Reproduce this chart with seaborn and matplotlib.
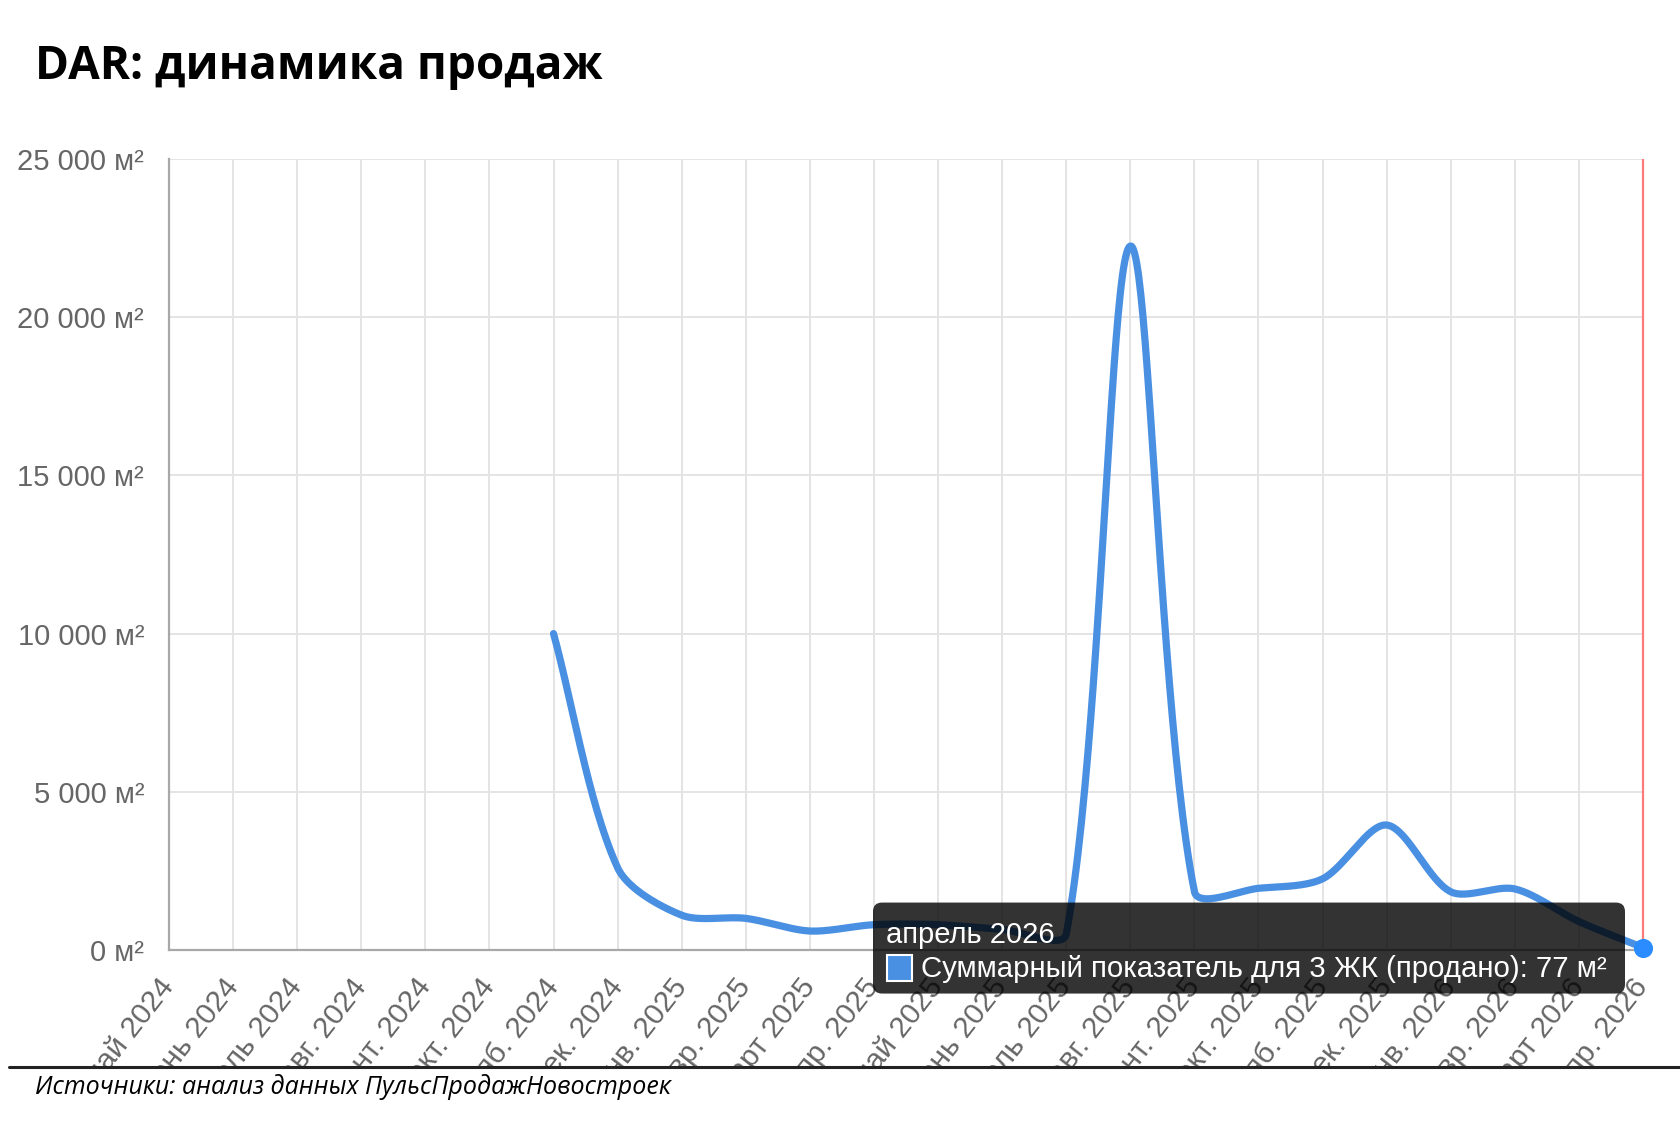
import numpy as np
import pandas as pd
import matplotlib
matplotlib.use("Agg")
import matplotlib.pyplot as plt
import seaborn as sns
from matplotlib.patches import FancyBboxPatch, Rectangle
from matplotlib.lines import Line2D
from matplotlib.ticker import FuncFormatter, MultipleLocator
from matplotlib.transforms import IdentityTransform

# --- data ---
months = ["май 2024", "июнь 2024", "июль 2024", "авг. 2024", "сент. 2024",
          "окт. 2024", "нояб. 2024", "дек. 2024", "янв. 2025", "февр. 2025",
          "март 2025", "апр. 2025", "май 2025", "июнь 2025", "июль 2025",
          "авг. 2025", "сент. 2025", "окт. 2025", "нояб. 2025", "дек. 2025",
          "янв. 2026", "февр. 2026", "март 2026", "апр. 2026"]
sold_m2 = [np.nan, np.nan, np.nan, np.nan, np.nan, np.nan,
           10000, 2600, 1100, 1000, 600, 800, 800, 650, 500,
           22250, 1850, 1950, 2250, 3950, 1840, 1930, 900, 77]

title = "DAR: динамика продаж"
source = "Источники: анализ данных ПульсПродажНовостроек"
tip_month = "апрель 2026"
series_name = "Суммарный показатель для 3 ЖК (продано)"

LINE = "#4a90e2"
GRID = "#e4e4e4"
TXT = "#666666"
Y_MAX = 25000


def spline_path(px, py, tension=0.3, top=None, bottom=None, steps=50):
    # chart.js style bezier spline, computed in pixel space
    n = len(px)
    cp_prev = np.zeros((n, 2))
    cp_next = np.zeros((n, 2))
    for i in range(n):
        cur = np.array([px[i], py[i]])
        prv = np.array([px[i - 1], py[i - 1]]) if i > 0 else cur
        nxt = np.array([px[i + 1], py[i + 1]]) if i < n - 1 else cur
        d01 = np.hypot(*(cur - prv))
        d12 = np.hypot(*(nxt - cur))
        tot = d01 + d12
        s01 = d01 / tot if tot else 0
        s12 = d12 / tot if tot else 0
        cp_prev[i] = cur - tension * s01 * (nxt - prv)
        cp_next[i] = cur + tension * s12 * (nxt - prv)
    if top is not None:
        cp_prev[:, 1] = np.clip(cp_prev[:, 1], bottom, top)
        cp_next[:, 1] = np.clip(cp_next[:, 1], bottom, top)
    t = np.linspace(0, 1, steps)[:, None]
    pts = []
    for i in range(n - 1):
        p0 = np.array([px[i], py[i]])
        p1 = np.array([px[i + 1], py[i + 1]])
        c1, c2 = cp_next[i], cp_prev[i + 1]
        pts.append((1 - t) ** 3 * p0 + 3 * (1 - t) ** 2 * t * c1
                   + 3 * (1 - t) * t ** 2 * c2 + t ** 3 * p1)
    return np.vstack(pts)


df = pd.DataFrame({"idx": np.arange(len(months)), "month": months, "sold": sold_m2})
valid = df.dropna()

sns.set_theme(style="white")
plt.rcParams["font.family"] = ["Liberation Sans", "DejaVu Sans"]

fig = plt.figure(figsize=(16.8, 11.28), dpi=100)
ax = fig.add_axes([169 / 1680, 1 - 950 / 1128, (1643 - 169) / 1680, (950 - 159) / 1128])
ax.set_xlim(0, len(months) - 1)
ax.set_ylim(0, Y_MAX)

# smooth the line in pixel space, then map back to data units
pix = ax.transData.transform(valid[["idx", "sold"]].to_numpy(float))
y_top = ax.transData.transform((0, Y_MAX))[1]
y_bot = ax.transData.transform((0, 0))[1]
path = spline_path(pix[:, 0], pix[:, 1], top=y_top, bottom=y_bot)
data_path = ax.transData.inverted().transform(path)
curve = pd.DataFrame({"x": data_path[:, 0], "y": data_path[:, 1]})

sns.lineplot(data=curve, x="x", y="y", sort=False, estimator=None, color=LINE,
             linewidth=5.2, ax=ax, zorder=3)

last = valid.iloc[-1]
ax.vlines(last["idx"], last["sold"], Y_MAX, color="#ff7b7b", linewidth=1.6,
          zorder=4, clip_on=False)
ax.scatter([last["idx"]], [last["sold"]], s=190, color="#2a8cff", zorder=5,
           clip_on=False, linewidths=0)

ax.set_xlim(0, len(months) - 1)
ax.set_ylim(0, Y_MAX)
ax.yaxis.set_major_locator(MultipleLocator(5000))
ax.yaxis.set_major_formatter(FuncFormatter(lambda v, p: f"{v:,.0f}".replace(",", " ") + " м²"))
ax.set_xticks(df["idx"])
ax.set_xticklabels(df["month"])
ax.set_xlabel("")
ax.set_ylabel("")
ax.grid(True, color=GRID, linewidth=1.4)
ax.set_axisbelow(True)

for side in ["top", "right"]:
    ax.spines[side].set_visible(False)
for side in ["left", "bottom"]:
    ax.spines[side].set_color("#a8a8a8")
    ax.spines[side].set_linewidth(1.6)

ax.tick_params(axis="y", length=16, width=1.4, color=GRID, pad=2,
               labelsize=21, labelcolor=TXT)
ax.tick_params(axis="x", length=18, width=1.4, color=GRID, pad=5,
               labelsize=21.5, labelcolor=TXT)
plt.setp(ax.get_xticklabels(), rotation=52, ha="right", va="center",
         rotation_mode="anchor")

# title
fig.text(35 / 1680, 1 - 66 / 1128, title, fontsize=33, fontweight="bold",
         family=["Open Sans", "DejaVu Sans"], color="black", va="center", ha="left")

# footer: white cover below a dark rule, then the source note
fig.add_artist(Rectangle((0, 0), 1, 1 - 1067 / 1128, transform=fig.transFigure,
                         facecolor="white", edgecolor="none", zorder=2))
fig.add_artist(Line2D([9 / 1680, 1], [1 - 1067 / 1128] * 2, transform=fig.transFigure,
                      color="#222222", linewidth=2.2, zorder=3))
fig.text(35 / 1680, 1 - 1087 / 1128, source, fontsize=18, style="italic",
         family=["Open Sans", "DejaVu Sans"], color="black", va="center", ha="left", zorder=4)

# tooltip anchored on the last point (pixel offsets)
px, py = ax.transData.transform((last["idx"], last["sold"]))
ident = IdentityTransform()
fig.add_artist(FancyBboxPatch((px - 770, py - 46), 752, 91,
                              boxstyle="round,pad=0,rounding_size=9",
                              facecolor="black", alpha=0.8, edgecolor="none",
                              transform=ident, zorder=6))
fig.add_artist(Rectangle((px - 756, py - 33), 25, 26, facecolor=LINE,
                         edgecolor="white", linewidth=1.5, transform=ident, zorder=7))
fig.text(px - 757, py + 13, tip_month, transform=ident, fontsize=21, color="white",
         va="center", ha="left", zorder=8)
fig.text(px - 722, py - 21, f"{series_name}: {last['sold']:.0f} м²", transform=ident,
         fontsize=21.2, color="white", va="center", ha="left", zorder=8)

fig.savefig("out.png", dpi=100, facecolor="white")
